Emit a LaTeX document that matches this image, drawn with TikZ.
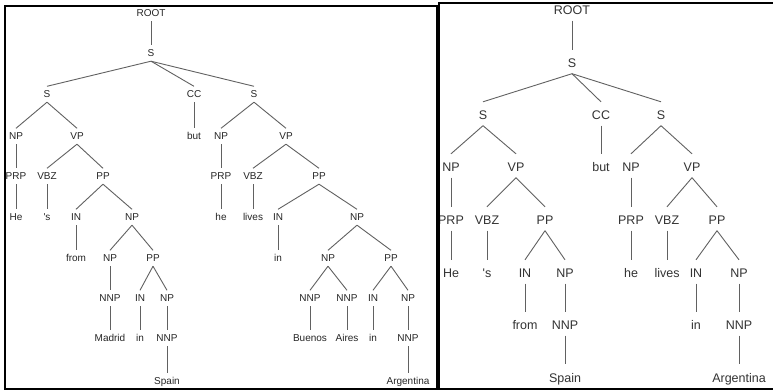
\documentclass[tikz,border=0pt]{standalone}
\usepackage{fontspec}
\newfontfamily\treefont{Liberation Sans}
\begin{document}
\begin{tikzpicture}[x=1pt,y=-1pt,
  lt/.style={font=\treefont\fontsize{10pt}{12pt}\selectfont, text=black!85,
    anchor=base, inner xsep=0pt, inner ysep=0pt, text height=11.1pt, text depth=4.4pt},
  rt/.style={font=\treefont\fontsize{12.5pt}{14pt}\selectfont, text=black!80,
    anchor=base, inner xsep=0pt, inner ysep=0pt, text height=17.5pt, text depth=6pt},
  edge/.style={draw=black!62, line width=0.9pt},
  frame/.style={draw=black, line width=2pt}]
\useasboundingbox (0,0) rectangle (773,390);
\fill[white] (0,0) rectangle (773,390);

% ---------- left tree: fully parsed sentence ----------
\node[lt] (lroot) at (151,16.6) {ROOT};
\node[lt] (ls) at (151,56.6) {S};
\node[lt] (ls1) at (47,97.6) {S};
\node[lt] (lcc) at (194,97.6) {CC};
\node[lt] (ls2) at (254,97.6) {S};
\node[lt] (lnp1) at (16,139.6) {NP};
\node[lt] (lvp1) at (77,139.6) {VP};
\node[lt] (lbut) at (194,139.6) {but};
\node[lt] (lnp2) at (221,139.6) {NP};
\node[lt] (lvp2) at (286,139.6) {VP};
\node[lt] (lprp1) at (16,179.6) {PRP};
\node[lt] (lvbz1) at (47,179.6) {VBZ};
\node[lt] (lpp1) at (103,179.6) {PP};
\node[lt] (lprp2) at (221,179.6) {PRP};
\node[lt] (lvbz2) at (253,179.6) {VBZ};
\node[lt] (lpp2) at (319,179.6) {PP};
\node[lt] (lhe) at (16,220.6) {He};
\node[lt] (lis) at (47,220.6) {'s};
\node[lt] (lin1) at (76,220.6) {IN};
\node[lt] (lnp3) at (132,220.6) {NP};
\node[lt] (lhe2) at (221,220.6) {he};
\node[lt] (llives) at (253,220.6) {lives};
\node[lt] (lin2) at (278,220.6) {IN};
\node[lt] (lnp4) at (357,220.6) {NP};
\node[lt] (lfrom) at (76,261.6) {from};
\node[lt] (lnp5) at (110,261.6) {NP};
\node[lt] (lpp3) at (153,261.6) {PP};
\node[lt] (lin3) at (278,261.6) {in};
\node[lt] (lnp6) at (328,261.6) {NP};
\node[lt] (lpp4) at (391,261.6) {PP};
\node[lt] (lnnp1) at (110,301.6) {NNP};
\node[lt] (lin4) at (140,301.6) {IN};
\node[lt] (lnp7) at (167,301.6) {NP};
\node[lt] (lnnp2) at (310,301.6) {NNP};
\node[lt] (lnnp3) at (347,301.6) {NNP};
\node[lt] (lin5) at (373,301.6) {IN};
\node[lt] (lnp8) at (408,301.6) {NP};
\node[lt] (lmadrid) at (110,341.6) {Madrid};
\node[lt] (lin6) at (140,341.6) {in};
\node[lt] (lnnp4) at (167,341.6) {NNP};
\node[lt] (lbuenos) at (310,341.6) {Buenos};
\node[lt] (laires) at (347,341.6) {Aires};
\node[lt] (lin7) at (373,341.6) {in};
\node[lt] (lnnp5) at (408,341.6) {NNP};
\node[lt] (lspain) at (167,384) {Spain};
\node[lt] (largentina) at (408,384) {Argentina};

\foreach \a/\b in {lroot/ls, ls/ls1, ls/lcc, ls/ls2, ls1/lnp1, ls1/lvp1, lcc/lbut,
    ls2/lnp2, ls2/lvp2, lnp1/lprp1, lvp1/lvbz1, lvp1/lpp1, lnp2/lprp2, lvp2/lvbz2,
    lvp2/lpp2, lprp1/lhe, lvbz1/lis, lpp1/lin1, lpp1/lnp3, lprp2/lhe2, lvbz2/llives,
    lpp2/lin2, lpp2/lnp4, lin1/lfrom, lnp3/lnp5, lnp3/lpp3, lin2/lin3, lnp4/lnp6,
    lnp4/lpp4, lnp5/lnnp1, lpp3/lin4, lpp3/lnp7, lnp6/lnnp2, lnp6/lnnp3, lpp4/lin5,
    lpp4/lnp8, lnnp1/lmadrid, lin4/lin6, lnp7/lnnp4, lnnp2/lbuenos, lnnp3/laires,
    lin5/lin7, lnp8/lnnp5, lnnp4/lspain, lnnp5/largentina}
  \draw[edge] (\a.south) -- (\b.north);

% ---------- right tree: reduced parse ----------
\node[rt] (rroot) at (572,14.5) {ROOT};
\node[rt] (rs) at (572,67.5) {S};
\node[rt] (rs1) at (483,119.5) {S};
\node[rt] (rcc) at (601,119.5) {CC};
\node[rt] (rs2) at (661,119.5) {S};
\node[rt] (rnp1) at (451,171.5) {NP};
\node[rt] (rvp1) at (516,171.5) {VP};
\node[rt] (rbut) at (601,171.5) {but};
\node[rt] (rnp2) at (631,171.5) {NP};
\node[rt] (rvp2) at (692,171.5) {VP};
\node[rt] (rprp1) at (451,224.5) {PRP};
\node[rt] (rvbz1) at (487,224.5) {VBZ};
\node[rt] (rpp1) at (545,224.5) {PP};
\node[rt] (rprp2) at (631,224.5) {PRP};
\node[rt] (rvbz2) at (667,224.5) {VBZ};
\node[rt] (rpp2) at (717,224.5) {PP};
\node[rt] (rhe) at (451,277.5) {He};
\node[rt] (ris) at (487,277.5) {'s};
\node[rt] (rin1) at (525,277.5) {IN};
\node[rt] (rnp3) at (565,277.5) {NP};
\node[rt] (rhe2) at (631,277.5) {he};
\node[rt] (rlives) at (667,277.5) {lives};
\node[rt] (rin2) at (696,277.5) {IN};
\node[rt] (rnp4) at (739,277.5) {NP};
\node[rt] (rfrom) at (525,329.5) {from};
\node[rt] (rnnp1) at (565,329.5) {NNP};
\node[rt] (rin3) at (696,329.5) {in};
\node[rt] (rnnp2) at (739,329.5) {NNP};
\node[rt] (rspain) at (565,382) {Spain};
\node[rt] (rargentina) at (739,382) {Argentina};

\foreach \a/\b in {rroot/rs, rs/rs1, rs/rcc, rs/rs2, rs1/rnp1, rs1/rvp1, rcc/rbut,
    rs2/rnp2, rs2/rvp2, rnp1/rprp1, rvp1/rvbz1, rvp1/rpp1, rnp2/rprp2, rvp2/rvbz2,
    rvp2/rpp2, rprp1/rhe, rvbz1/ris, rpp1/rin1, rpp1/rnp3, rprp2/rhe2, rvbz2/rlives,
    rpp2/rin2, rpp2/rnp4, rin1/rfrom, rnp3/rnnp1, rin2/rin3, rnp4/rnnp2,
    rnnp1/rspain, rnnp2/rargentina}
  \draw[edge] (\a.south) -- (\b.north);

% ---------- panel frames ----------
\draw[frame] (5,6) rectangle (437,388.5);
\draw[frame] (773,3) -- (439,3) -- (439,390);
\draw[frame] (439,388.5) -- (773,388.5);
\end{tikzpicture}
\end{document}
